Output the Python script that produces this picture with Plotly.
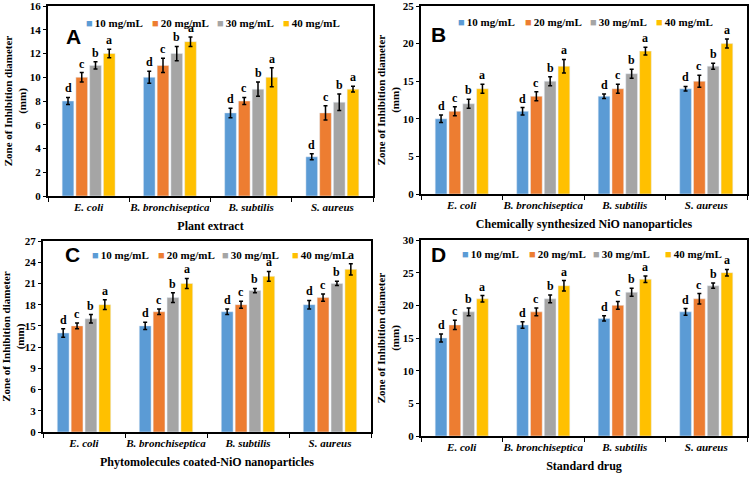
import plotly.graph_objects as go
from plotly.subplots import make_subplots

W, H = 753, 479

bacteria = ["E. coli", "B. bronchiseptica", "B. subtilis", "S. aureus"]
doses = ["10 mg/mL", "20 mg/mL", "30 mg/mL", "40 mg/mL"]
letters = ["d", "c", "b", "a"]
colors = ["#5B9BD5", "#ED7D31", "#A5A5A5", "#FFC000"]

# rows = dose (10, 20, 30, 40 mg/mL), columns = bacteria
plant_mean = [[8, 10, 7, 3.3], [10, 11, 8, 7], [11, 12, 9, 7.9], [12, 13, 10, 9]]
plant_err = [[0.3, 0.5, 0.4, 0.25], [0.4, 0.6, 0.3, 0.6], [0.3, 0.6, 0.6, 0.7], [0.35, 0.4, 0.8, 0.25]]

chem_mean = [[10, 11, 13, 14], [11, 13, 14, 15], [12, 15, 16, 17], [14, 17, 19, 20]]
chem_err = [[0.5, 0.5, 0.3, 0.3], [0.6, 0.6, 0.6, 0.8], [0.6, 0.6, 0.6, 0.4], [0.6, 0.9, 0.5, 0.6]]

phyto_mean = [[14, 15, 17, 18], [15, 17, 18, 19], [16, 19, 20, 21], [18, 21, 22, 23]]
phyto_err = [[0.6, 0.5, 0.4, 0.6], [0.4, 0.4, 0.5, 0.5], [0.6, 0.7, 0.3, 0.3], [0.7, 0.7, 0.7, 0.8]]

drug_mean = [[15, 17, 18, 19], [17, 19, 20, 21], [19, 21, 22, 23], [21, 23, 24, 25]]
drug_err = [[0.6, 0.5, 0.4, 0.5], [0.7, 0.6, 0.6, 0.8], [0.6, 0.6, 0.6, 0.4], [0.5, 0.8, 0.5, 0.5]]

panel_titles = ["Plant extract", "Chemically synthesized NiO nanoparticles",
                "Phytomolecules coated-NiO nanoparticles", "Standard drug"]
panel_letters = ["A", "B", "C", "D"]
y_max = [16, 25, 27, 30]
y_step = [2, 5, 3, 5]

# pixel boxes of each plot area: (left, right, top, bottom)
boxes = [(48, 373, 6, 196), (421, 747, 6, 194), (43, 371, 241, 432), (421, 747, 240, 436)]
# legend square left edges and row centre, panel letter centre
legend_x = [[84, 150, 215, 281], [456, 523, 588, 654], [90, 156, 220, 290], [460, 527, 591, 663]]
legend_y = [23, 22, 255, 254]
letter_pos = [(64, 23), (438, 21), (63, 255), (438, 254)]

means = [plant_mean, chem_mean, phyto_mean, drug_mean]
errs = [plant_err, chem_err, phyto_err, drug_err]

serif = "Liberation Serif"
span = 0.677          # group width in category units
slot = span / 4
bar_w = 0.144


def px(x):
    return x / W


def py(y):
    return 1 - y / H


fig = make_subplots(rows=2, cols=2)

for k in range(4):
    row, col = k // 2 + 1, k % 2 + 1
    sfx = "" if k == 0 else str(k + 1)
    for i in range(4):
        off = -span / 2 + i * slot + (slot - bar_w) / 2
        fig.add_trace(
            go.Bar(
                x=bacteria,
                y=means[k][i],
                name=doses[i],
                width=bar_w,
                offset=off,
                marker_color=colors[i],
                error_y=dict(type="data", array=errs[k][i], color="black",
                             thickness=1.5, width=2),
                showlegend=False,
            ),
            row=row, col=col,
        )
        # significance letters above the error bars
        for j in range(4):
            fig.add_annotation(
                x=j + off + bar_w / 2,
                y=means[k][i][j] + errs[k][i][j],
                xref="x" + sfx, yref="y" + sfx,
                text=letters[i], showarrow=False, yanchor="bottom",
                font=dict(family=serif, size=12, color="black", weight="bold"),
            )

    l, r, t, b = boxes[k]
    fig.update_xaxes(
        domain=[px(l), px(r)], range=[-0.5, 3.5],
        showline=True, linecolor="black", linewidth=2, mirror=True,
        ticks="outside", tickson="boundaries", ticklen=4, tickcolor="black",
        tickangle=0,
        tickfont=dict(family=serif, size=11, color="black", weight="bold", style="italic"),
        title=dict(text=panel_titles[k], standoff=9,
                   font=dict(family=serif, size=12, color="black", weight="bold")),
        automargin=False,
        row=row, col=col,
    )
    fig.update_yaxes(
        domain=[py(b), py(t)], range=[0, y_max[k]], dtick=y_step[k], tick0=0,
        showline=True, linecolor="black", linewidth=2, mirror=True,
        showgrid=False, zeroline=False,
        ticks="outside", ticklen=3, tickcolor="black",
        ticklabeloverflow="allow",
        tickfont=dict(family=serif, size=11, color="black", weight="bold"),
        title=dict(text="Zone of Inhibition diameter<br>(mm)", standoff=1,
                   font=dict(family=serif, size=11, color="black", weight="bold")),
        automargin=False,
        row=row, col=col,
    )

    # legend row (square swatch + label)
    for i in range(4):
        fig.add_annotation(
            x=px(legend_x[k][i]), y=py(legend_y[k]), xref="paper", yref="paper",
            xanchor="left", yanchor="middle", showarrow=False,
            text=f'<span style="color:{colors[i]}">■</span>\u2009{doses[i]}',
            font=dict(family=serif, size=11, color="black", weight="bold"),
        )
    lx, ly = letter_pos[k]
    fig.add_annotation(
        x=px(lx), y=py(ly), xref="paper", yref="paper", showarrow=False,
        text=panel_letters[k],
        font=dict(family="Liberation Sans", size=21, color="black", weight="bold"),
    )

fig.update_layout(
    width=W, height=H,
    margin=dict(l=0, r=0, t=0, b=0),
    paper_bgcolor="white", plot_bgcolor="white",
    barmode="group",
)

# drop the page's default body margin so the figure sits at the window's corner
fig.write_html("out.html", config={"displayModeBar": False},
               post_script="document.body.style.margin = '0';")
